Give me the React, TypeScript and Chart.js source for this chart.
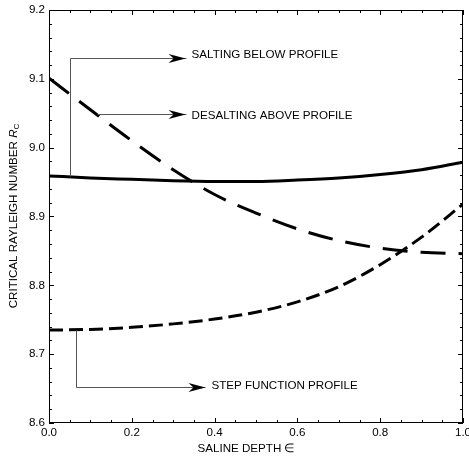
import React, { useEffect, useRef } from "react";
import { Chart, registerables } from "chart.js";

Chart.register(...registerables);

// Saline depth (x) and critical Rayleigh number curves
const DEPTH = [0, 0.1, 0.2, 0.3, 0.4, 0.5, 0.6, 0.7, 0.8, 0.9, 1.0];
const SALTING_BELOW = [8.959, 8.956, 8.954, 8.952, 8.951, 8.951, 8.953, 8.956, 8.961, 8.968, 8.979];
const DESALTING_ABOVE = [9.101, 9.055, 9.01, 8.968, 8.932, 8.905, 8.882, 8.865, 8.854, 8.848, 8.846];
const STEP_FUNCTION = [8.735, 8.736, 8.739, 8.744, 8.751, 8.761, 8.776, 8.798, 8.83, 8.87, 8.918];

const X_TICKS = [0, 0.2, 0.4, 0.6, 0.8, 1.0];
const Y_TICKS = [8.6, 8.7, 8.8, 8.9, 9.0, 9.1, 9.2];

const LABELS = ["SALTING BELOW PROFILE", "DESALTING ABOVE PROFILE", "STEP FUNCTION PROFILE"];
// leader paths in data coordinates: [x, y] points, last point is arrow tip
const LEADERS: number[][][] = [
  [[0.051, 8.959], [0.051, 9.13], [0.33, 9.13]],
  [[0.116, 9.049], [0.33, 9.049]],
  [[0.065, 8.735], [0.065, 8.652], [0.378, 8.652]],
];

const FONT = "'Liberation Sans', Arial, sans-serif";
const FS = 11.6;

const decorPlugin = {
  id: "decor",
  afterDraw(chart: any) {
    const { ctx, chartArea: a, scales } = chart;
    const xs = scales.x, ys = scales.y;
    ctx.save();
    // frame
    ctx.strokeStyle = "#000";
    ctx.lineWidth = 1;
    ctx.strokeRect(a.left + 0.5, a.top + 0.5, a.right - a.left - 1, a.bottom - a.top - 1);
    // x ticks (inward, top and bottom)
    for (let i = 0; i <= 20; i++) {
      const v = i * 0.05;
      const px = Math.round(xs.getPixelForValue(v)) + 0.5;
      const len = i % 4 === 0 ? 5 : 3;
      ctx.beginPath();
      ctx.moveTo(px, a.bottom);
      ctx.lineTo(px, a.bottom - len);
      ctx.moveTo(px, a.top);
      ctx.lineTo(px, a.top + len);
      ctx.stroke();
    }
    for (let i = 0; i <= 30; i++) {
      const v = 8.6 + i * 0.02;
      const py = Math.round(ys.getPixelForValue(v)) + 0.5;
      const len = i % 5 === 0 ? 5 : 3;
      ctx.beginPath();
      ctx.moveTo(a.left, py);
      ctx.lineTo(a.left + len, py);
      ctx.moveTo(a.right, py);
      ctx.lineTo(a.right - len, py);
      ctx.stroke();
    }
    // tick labels
    ctx.fillStyle = "#000";
    ctx.font = `${FS}px ${FONT}`;
    ctx.textBaseline = "middle";
    ctx.textAlign = "center";
    X_TICKS.forEach((v) => ctx.fillText(v.toFixed(1), xs.getPixelForValue(v), a.bottom + 10));
    ctx.textAlign = "right";
    Y_TICKS.forEach((v) => ctx.fillText(v.toFixed(1), a.left - 4, ys.getPixelForValue(v)));
    // leaders + arrows + labels
    ctx.textAlign = "left";
    LEADERS.forEach((path, k) => {
      const pts = path.map(([x, y]) => [xs.getPixelForValue(x), ys.getPixelForValue(y)]);
      ctx.strokeStyle = "#555";
      ctx.lineWidth = 1;
      ctx.beginPath();
      pts.forEach(([x, y], i) => (i === 0 ? ctx.moveTo(Math.round(x) + 0.5, Math.round(y) + 0.5) : ctx.lineTo(Math.round(x) + 0.5, Math.round(y) + 0.5)));
      ctx.stroke();
      const [tx, ty] = pts[pts.length - 1];
      const yy = Math.round(ty) + 0.5;
      ctx.fillStyle = "#000";
      ctx.beginPath();
      ctx.moveTo(tx, yy);
      ctx.lineTo(tx - 17, yy - 4.5);
      ctx.lineTo(tx - 12, yy);
      ctx.lineTo(tx - 17, yy + 4.5);
      ctx.closePath();
      ctx.fill();
      ctx.fillText(LABELS[k], tx + 6, yy - (k === 0 ? 4 : k === 1 ? -1 : 2));
    });
    // x title
    ctx.textAlign = "center";
    ctx.fillText("SALINE DEPTH \u2208", 246, 449);
    // y title with italic R and subscript C
    const main = "CRITICAL RAYLEIGH NUMBER ";
    ctx.font = `${FS}px ${FONT}`;
    const w1 = ctx.measureText(main).width;
    ctx.font = `italic ${FS}px ${FONT}`;
    const w2 = ctx.measureText("R").width;
    ctx.font = `8px ${FONT}`;
    const w3 = ctx.measureText("C").width;
    const total = w1 + w2 + w3;
    ctx.translate(14, 216);
    ctx.rotate(-Math.PI / 2);
    ctx.textAlign = "left";
    let x0 = -total / 2;
    ctx.font = `${FS}px ${FONT}`;
    ctx.fillText(main, x0, 0);
    x0 += w1;
    ctx.font = `italic ${FS}px ${FONT}`;
    ctx.fillText("R", x0, 0);
    x0 += w2;
    ctx.font = `8px ${FONT}`;
    ctx.fillText("C", x0, 3);
    ctx.restore();
  },
};

export default function App() {
  const ref = useRef<HTMLCanvasElement | null>(null);
  useEffect(() => {
    document.body.style.margin = "0";
    const mk = (arr: number[]) => DEPTH.map((x, i) => ({ x, y: arr[i] }));
    const chart = new Chart(ref.current as HTMLCanvasElement, {
      type: "line",
      data: {
        datasets: [
          { data: mk(SALTING_BELOW), borderColor: "#000", borderWidth: 3, pointRadius: 0, tension: 0.4, cubicInterpolationMode: "monotone" },
          { data: mk(DESALTING_ABOVE), borderColor: "#000", borderWidth: 3, borderDash: [25, 13], pointRadius: 0, tension: 0.4, cubicInterpolationMode: "monotone" },
          { data: mk(STEP_FUNCTION), borderColor: "#000", borderWidth: 3, borderDash: [14, 6], pointRadius: 0, tension: 0.4, cubicInterpolationMode: "monotone" },
        ],
      } as any,
      options: {
        responsive: false,
        animation: false,
        layout: { padding: { top: 10, right: 6, left: 0, bottom: 0 } },
        plugins: { legend: { display: false }, tooltip: { enabled: false } },
        scales: {
          x: {
            type: "linear",
            min: 0,
            max: 1,
            afterFit: (s: any) => { s.height = 43; s.paddingLeft = 0; s.paddingRight = 0; },
            ticks: { display: false },
            grid: { display: false, drawTicks: false },
            border: { display: false },
          },
          y: {
            type: "linear",
            min: 8.6,
            max: 9.2,
            afterFit: (s: any) => { s.width = 49; s.paddingTop = 0; s.paddingBottom = 0; },
            ticks: { display: false },
            grid: { display: false, drawTicks: false },
            border: { display: false },
          },
        },
      } as any,
      plugins: [decorPlugin],
    });
    return () => chart.destroy();
  }, []);
  return <canvas ref={ref} width={469} height={466} style={{ display: "block" }} />;
}
